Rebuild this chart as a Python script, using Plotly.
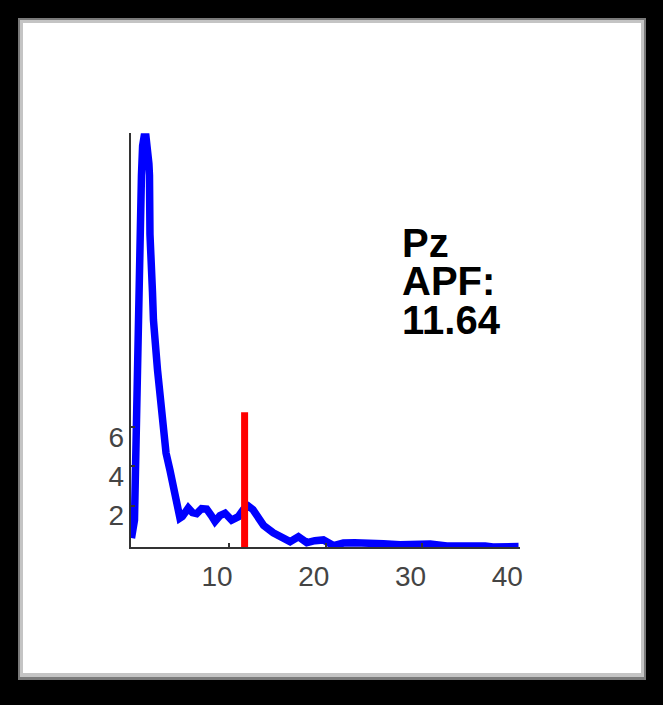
import plotly.graph_objects as go

# spectrum (Hz vs power)
freq = [-0.05, 0.26, 0.47, 0.6, 0.75, 0.88, 0.98, 1.1, 1.25, 1.45, 1.6,
        1.75, 1.81, 1.86, 2.12, 2.22, 2.64, 3.07, 3.52, 3.93, 4.34, 4.79,
        4.96, 5.2, 5.82, 6.25, 6.69, 7.2, 7.72, 8.2, 8.58, 9.1, 9.62, 10.3,
        10.99, 11.5, 12.03, 12.5, 13.1, 13.6, 14.6, 15.3, 16.34, 17.2,
        18.07, 18.9, 19.78, 20.82, 21.85, 23.0, 24.27, 25.99, 27.71, 29.3,
        30.82, 32.54, 33.8, 35.3, 36.5, 37.3, 38.06, 39.0, 39.95]
power = [0.35, 1.27, 6.36, 10.5, 13.5, 15.76, 18.8, 20.3, 20.75, 20.75, 20.3,
         19.4, 18.8, 15.8, 12.86, 11.44, 8.9, 6.36, 4.68, 3.8, 2.95, 1.63,
         1.37, 1.45, 1.88, 1.65, 1.6, 1.85, 1.83, 1.5, 1.2, 1.5, 1.62, 1.27,
         1.44, 1.8, 1.98, 1.8, 1.4, 1.0, 0.62, 0.45, 0.17, 0.42,
         0.12, 0.22, 0.26, -0.03, 0.1, 0.12, 0.12, 0.06, 0.02, 0.04,
         0.05, -0.05, -0.02, -0.06, -0.05, -0.1, -0.12, -0.1, -0.08]

channel = "Pz"
apf = 11.64
apf_height = 6.75

x_ticks = [10, 20, 30, 40]
y_ticks = [2, 4, 6]

# figure geometry
W, H = 663, 705
ML, MR, MT, MB = 131, 143, 133, 158
PLOT_W = W - ML - MR
PLOT_H = H - MT - MB

X_RANGE = [-0.1, 40.1]
Y_RANGE = [-0.1, 20.95]
AXIS_COLOR = "#333333"
FONT = "Arial, Liberation Sans, sans-serif"


def px_x(px):
    return (px - ML) / PLOT_W


def px_y(py):
    return (H - MB - py) / PLOT_H


fig = go.Figure()

fig.add_trace(go.Scatter(
    x=freq, y=power, mode="lines",
    line=dict(color="#0000ff", width=7.5),
    hoverinfo="skip", showlegend=False,
))

fig.add_trace(go.Scatter(
    x=[apf, apf], y=[Y_RANGE[0], apf_height], mode="lines",
    line=dict(color="#ff0000", width=7),
    hoverinfo="skip", showlegend=False,
))

# white panel with a soft grey bevel
panel = [
    ("#7a7a7a", 18, 18, 646, 680),
    ("#c4c4c4", 20, 20, 644, 677),
    ("#ffffff", 23, 23, 641, 673),
]
for color, x0, y0, x1, y1 in panel:
    fig.add_shape(
        type="rect", xref="paper", yref="paper", layer="below",
        x0=px_x(x0), x1=px_x(x1), y0=px_y(y1), y1=px_y(y0),
        fillcolor=color, line=dict(width=0),
    )

# channel / APF label
label_lines = [channel, "APF:", f"{apf:.2f}"]
for i, txt in enumerate(label_lines):
    fig.add_annotation(
        xref="paper", yref="paper", x=px_x(400), y=px_y(242.5 + 38.5 * i),
        xanchor="left", yanchor="middle", showarrow=False,
        text=f"<b>{txt}</b>",
        font=dict(family=FONT, size=40, color="#000000"),
    )

fig.update_layout(
    width=W, height=H,
    margin=dict(l=ML, r=MR, t=MT, b=MB, pad=0),
    paper_bgcolor="#000000",
    plot_bgcolor="#ffffff",
    showlegend=False,
    xaxis=dict(
        range=X_RANGE, showgrid=False, zeroline=False,
        showline=True, linecolor=AXIS_COLOR, linewidth=2,
        ticks="inside", ticklen=4, tickwidth=2, tickcolor=AXIS_COLOR,
        tickvals=x_ticks, showticklabels=False,
    ),
    yaxis=dict(
        range=Y_RANGE, showgrid=False, zeroline=False,
        showline=True, linecolor=AXIS_COLOR, linewidth=2,
        ticks="inside", ticklen=4, tickwidth=2, tickcolor=AXIS_COLOR,
        tickvals=y_ticks, showticklabels=False,
    ),
    # label-only axes, nudged to where the labels sit in the original
    xaxis2=dict(
        overlaying="x", anchor="y", side="bottom",
        range=[X_RANGE[0] + 1.21, X_RANGE[1] + 1.21],
        showgrid=False, zeroline=False, showline=False, ticks="",
        tickvals=x_ticks, ticklabelstandoff=10,
        tickfont=dict(family=FONT, size=28, color="#444444"),
    ),
    yaxis2=dict(
        overlaying="y", anchor="x", side="left",
        range=[Y_RANGE[0] + 0.5, Y_RANGE[1] + 0.5],
        showgrid=False, zeroline=False, showline=False, ticks="",
        tickvals=y_ticks, ticklabelstandoff=6,
        tickfont=dict(family=FONT, size=28, color="#444444"),
    ),
)

# dummy trace so the label axes are drawn
fig.add_trace(go.Scatter(
    x=[None], y=[None], xaxis="x2", yaxis="y2",
    hoverinfo="skip", showlegend=False,
))

# drop the browser's default page margin so the figure sits at the corner
fig.write_html(
    "out.html",
    config={"displayModeBar": False},
    post_script="document.body.style.margin='0';"
                "document.body.style.background='#000';",
)
